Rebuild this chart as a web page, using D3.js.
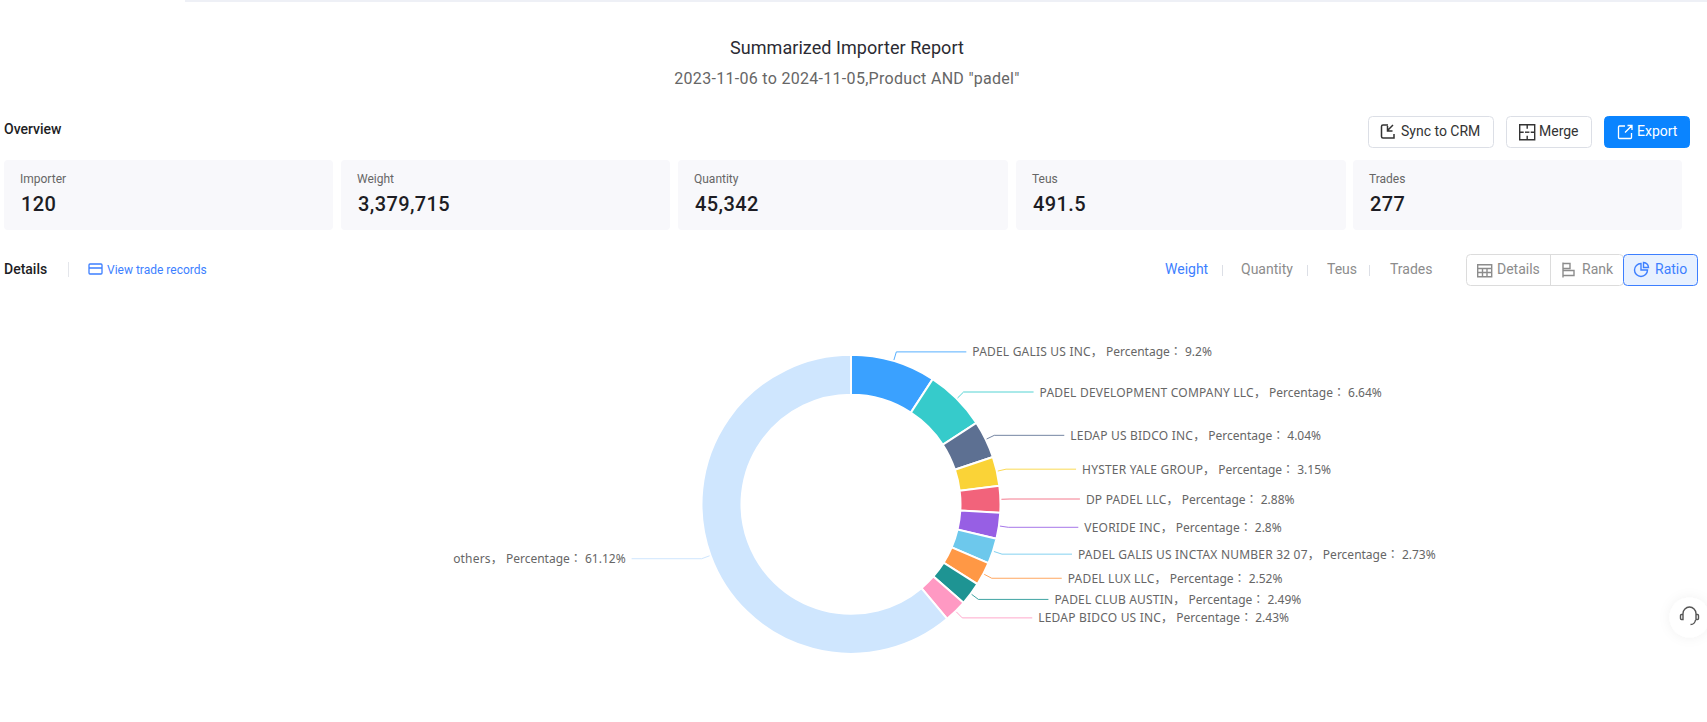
<!DOCTYPE html>
<html><head><meta charset="utf-8">
<script src="https://cdn.jsdelivr.net/npm/d3@7"></script>
<style>
html,body{margin:0;padding:0;background:#fff;overflow:hidden}
svg{display:block}
text{font-family:Roboto,"Noto Sans CJK SC",sans-serif}
text.lab{font-family:"Noto Sans","Noto Sans CJK JP",sans-serif;white-space:pre}
</style></head><body><div id="c"></div>
<script>
const importers=["PADEL GALIS US INC","PADEL DEVELOPMENT COMPANY LLC","LEDAP US BIDCO INC","HYSTER YALE GROUP","DP PADEL LLC","VEORIDE INC","PADEL GALIS US INCTAX NUMBER 32 07","PADEL LUX LLC","PADEL CLUB AUSTIN","LEDAP BIDCO US INC","others"];
const percentages=[9.2,6.64,4.04,3.15,2.88,2.8,2.73,2.52,2.49,2.43,61.12];
const sliceColors=["#3AA1FF","#36CBCB","#5D7092","#FAD337","#F2637B","#975FE4","#6DC8EC","#FF9845","#1E9493","#FF99C3","#CFE6FE"];
const cardLabels=["Importer","Weight","Quantity","Teus","Trades"];
const cardValues=["120","3,379,715","45,342","491.5","277"];
const tabLabels=["Weight","Quantity","Teus","Trades"];

const W=1707,H=722;
const svg=d3.select("#c").append("svg").attr("width",W).attr("height",H).attr("viewBox",[0,0,W,H]);
const T=(x,y,s,size,fill,o={})=>svg.append("text").attr("x",x).attr("y",y).attr("font-size",size).attr("fill",fill)
  .attr("font-weight",o.w||400).attr("text-anchor",o.a||"start").attr("dominant-baseline","central").attr("letter-spacing",o.ls||null).text(s);

svg.append("rect").attr("x",185).attr("y",0).attr("width",W-185).attr("height",2).attr("fill","#eef0f6");
T(847,47,"Summarized Importer Report",18,"#2b2b33",{a:"middle",ls:".06px"});
T(847,78,'2023-11-06 to 2024-11-05,Product AND "padel"',16,"#666",{a:"middle",ls:".3px"});
T(4,129,"Overview",14,"#1d1d24",{w:500});

// buttons
function btn(x,w,label,tx,primary){
  svg.append("rect").attr("x",x+.5).attr("y",116.5).attr("width",w-1).attr("height",31).attr("rx",4)
    .attr("fill",primary?"#0A84FF":"#fff").attr("stroke",primary?"#0A84FF":"#dcdfe6");
  T(tx,131,label,14,primary?"#fff":"#333");
}
btn(1368,126,"Sync to CRM",1401);
btn(1506,86,"Merge",1539);
btn(1604,86,"Export",1637,true);
const ic=(d,c,sw=1.3)=>svg.append("path").attr("d",d).attr("fill","none").attr("stroke",c).attr("stroke-width",sw);
ic("M1388 125h-5a1.5 1.5 0 0 0-1.5 1.5v10a1.5 1.5 0 0 0 1.5 1.5h11v-4M1393 125l-5.500 5.500M1387.500 126v5h5","#333",1.5);
ic("M1519.700 124.700h15v15h-15zM1527.200 124.700v4M1527.200 135.700v4M1519.700 132.200h4M1530.700 132.200h4","#333",1.4);
ic("M1525 132.200h4.400","#333",1.4);
ic("M1625 126h-5.500a1 1 0 0 0-1 1v10.500a1 1 0 0 0 1 1h11a1 1 0 0 0 1-1v-4.500M1625 132.500l6.500-6.500M1627.500 125.500h4.500v4.500","#fff",1.3);

// cards
const cardX=[4,341,678,1016,1353],cardW=[329,329,330,330,329];
cardLabels.forEach((l,i)=>{
  svg.append("rect").attr("x",cardX[i]).attr("y",160).attr("width",cardW[i]).attr("height",70).attr("rx",4).attr("fill","#f8f8fb");
  T(cardX[i]+16,179,l,12,"#666");
  T(cardX[i]+17,204,cardValues[i],20,"#1d1d24",{w:500,ls:".4px"});
});

// details row
T(4,269,"Details",14,"#1d1d24",{w:500});
svg.append("line").attr("x1",68.5).attr("x2",68.5).attr("y1",262).attr("y2",277).attr("stroke","#e4e6eb");
ic("M90 264h11a1 1 0 0 1 1 1v8a1 1 0 0 1-1 1h-11a1 1 0 0 1-1-1v-8a1 1 0 0 1 1-1zM89 268h13","#3d7fff");
T(107,269.5,"View trade records",12,"#3d7fff");
const tabX=[1165,1241,1327,1390],sepX=[1222,1307,1369];
tabLabels.forEach((l,i)=>T(tabX[i],269,l,14,i?"#8c8c8c":"#3d7fff"));
sepX.forEach(x=>svg.append("line").attr("x1",x+.5).attr("x2",x+.5).attr("y1",265).attr("y2",276).attr("stroke","#dcdfe6"));

// view toggle
svg.append("rect").attr("x",1466.5).attr("y",254.5).attr("width",157).attr("height",31).attr("rx",4).attr("fill","#fff").attr("stroke","#dcdcdc");
svg.append("line").attr("x1",1550.5).attr("x2",1550.5).attr("y1",255).attr("y2",285).attr("stroke","#dcdcdc");
svg.append("rect").attr("x",1623.5).attr("y",254.5).attr("width",74).attr("height",31).attr("rx",4).attr("fill","#e8f1ff").attr("stroke","#3d7fff");
T(1497,269,"Details",14,"#8c8c8c");
T(1582,269,"Rank",14,"#8c8c8c");
T(1655,269,"Ratio",14,"#3d7fff");
ic("M1477.700 264.700h14v12h-14zM1477.700 268.500h14M1477.700 272.500h14M1482.500 268.500v8M1487 268.500v8","#8c8c8c",1.4);
ic("M1563 262.500v15M1563 263.500h7v5h-7M1563 270.500h11v5h-11","#8c8c8c",1.4);
ic("M1641 263.500a6.500 6.500 0 1 0 6.500 6.500h-6.500zM1643.500 262.500a5.500 5.500 0 0 1 5 5h-5z","#3d7fff",1.4);

// donut
const cx=851,cy=504.3,R=149.5,r=109.5,R2=159,len2=70,gap=6;
const g=svg.append("g").attr("transform",`translate(${cx},${cy})`);
const pie=d3.pie().sort(null).value(d=>d)(percentages);
const arc=d3.arc().innerRadius(r).outerRadius(R);
g.selectAll("path.s").data(pie).join("path").attr("class","s").attr("d",arc)
  .attr("fill",(d,i)=>sliceColors[i]).attr("stroke","#fff").attr("stroke-width",2);
const lineGen=d3.line();
pie.forEach((d,i)=>{
  const a=(d.startAngle+d.endAngle)/2, s=Math.sin(a), c=-Math.cos(a), dir=s>=0?1:-1;
  const p0=[(R+1)*s,(R+1)*c], p1=[R2*s,R2*c], p2=[p1[0]+dir*len2,p1[1]];
  g.append("path").attr("d",lineGen([p0,p1,p2])).attr("fill","none").attr("stroke",sliceColors[i]).attr("stroke-width",1)
    .attr("stroke-opacity",i==10?1:.85);
  const t=g.append("text").attr("class","lab").attr("x",p2[0]+dir*gap).attr("y",p2[1]-.5).attr("dominant-baseline","central")
    .attr("text-anchor",dir>0?"start":"end").attr("font-size",12).attr("fill","#666");
  t.append("tspan").attr("letter-spacing",".2px").text(importers[i]);
  t.append("tspan").text(`， Percentage： ${percentages[i]}%`);
});

// support button
const f=svg.append("defs").append("filter").attr("id","sh").attr("x","-50%").attr("y","-50%").attr("width","200%").attr("height","200%");
f.append("feDropShadow").attr("dx",0).attr("dy",0).attr("stdDeviation",6).attr("flood-color","#000").attr("flood-opacity",.06);
svg.append("circle").attr("cx",1689.5).attr("cy",617.5).attr("r",20).attr("fill","#fff").attr("filter","url(#sh)");
ic("M1683 616v-2.500a6.500 6.500 0 0 1 13 0v2.500M1683 614.500h-1.500a1 1 0 0 0-1 1v3a1 1 0 0 0 1 1h1.500zM1696 614.500h1.500a1 1 0 0 1 1 1v3a1 1 0 0 1-1 1h-1.500zM1695.500 620c-.5 3-2.500 4.500-5 4.500","#555",1.4);
</script></body></html>
